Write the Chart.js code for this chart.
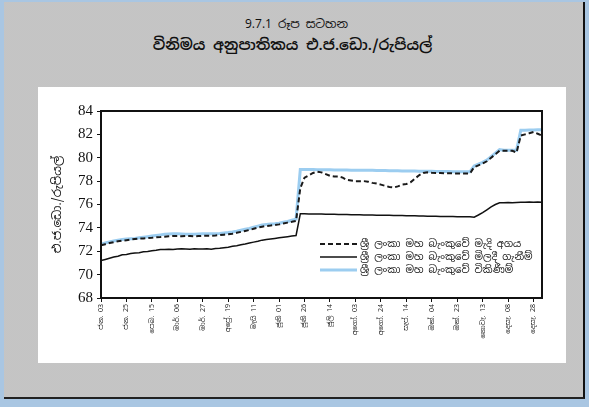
<!DOCTYPE html>
<html>
<head>
<meta charset="utf-8">
<script src="https://cdn.jsdelivr.net/npm/chart.js@4.4.1/dist/chart.umd.min.js"></script>
<style>
  html, body { margin: 0; padding: 0; }
  body { width: 589px; height: 407px; background: #a9c6e2; position: relative; overflow: hidden; }
  #frame {
    position: absolute; left: 4px; top: 2px; width: 579px; height: 395px;
    background-color: #d3d3d3;
    background-image: radial-gradient(#b4b4b4 0.6px, transparent 0.8px);
    background-size: 2px 2px;
    border-right: 2px solid #111; border-bottom: 2px solid #222;
  }
  .title { position: absolute; left: 0; width: 100%; text-align: center; color: #111;
    font-family: "Noto Sans Sinhala", "Iskoola Pota", "Liberation Serif", serif; }
  #t1 { top: 16px; font-size: 12px; left: 2px; }
  #t2 { top: 35px; font-size: 15px; font-weight: 600; left: -2px; }
  #panel { position: absolute; left: 38px; top: 87px; width: 528px; height: 276px; background: #fff; }
  canvas { position: absolute; left: 0; top: 0; }
</style>
</head>
<body>
<div id="frame"></div>
<div class="title" id="t1">9.7.1 රූප සටහන</div>
<div class="title" id="t2">විනිමය අනුපාතිකය එ.ජ.ඩො./රුපියල්</div>
<div id="panel"><canvas id="canvas" width="528" height="276"></canvas></div>
<script>
// x labels, one every 6 half-week steps
const xLabels = ["ජන. 03", "ජන. 25", "පෙබ. 15", "මාර්. 06", "මාර්. 27", "අප්‍රේ. 19",
  "මැයි 11", "ජූනි 01", "ජූනි 26", "ජූලි 14", "අගෝ. 03", "අගෝ. 24",
  "සැප්. 14", "ඔක්. 04", "ඔක්. 23", "නොවැ. 13", "දෙසැ. 08", "දෙසැ. 28"];

const seriesNames = ["ශ්‍රී ලංකා මහ බැංකුවේ මැදි අගය",
  "ශ්‍රී ලංකා මහ බැංකුවේ මිලදී ගැනීම්",
  "ශ්‍රී ලංකා මහ බැංකුවේ විකිණීම්"];

// middle rate (dashed)
const middleRate = [
  72.50, 72.60, 72.70, 72.78, 72.85, 72.90, 72.95, 73.00, 73.05, 73.08,
  73.10, 73.12, 73.15, 73.20, 73.22, 73.25, 73.28, 73.30, 73.30, 73.28,
  73.30, 73.30, 73.28, 73.30, 73.32, 73.33, 73.33, 73.35, 73.38, 73.42,
  73.45, 73.50, 73.58, 73.66, 73.74, 73.82, 73.92, 74.02, 74.10, 74.16,
  74.20, 74.25, 74.30, 74.38, 74.45, 74.52, 74.60, 77.40, 78.30, 78.50,
  78.70, 78.80, 78.75, 78.60, 78.45, 78.40, 78.40, 78.30, 78.10, 78.05,
  78.00, 78.00, 78.00, 77.95, 77.85, 77.80, 77.70, 77.60, 77.50, 77.45,
  77.55, 77.70, 77.75, 77.90, 78.20, 78.50, 78.70, 78.75, 78.72, 78.70,
  78.70, 78.68, 78.68, 78.66, 78.66, 78.65, 78.65, 78.65, 79.20, 79.35,
  79.50, 79.70, 80.00, 80.30, 80.60, 80.60, 80.60, 80.60, 80.45, 81.90,
  82.00, 82.10, 82.20, 82.05, 81.90];

// CBSL buying rate (solid black)
const buyingRate = [
  71.20, 71.30, 71.40, 71.50, 71.58, 71.70, 71.72, 71.80, 71.85, 71.88,
  71.95, 71.98, 72.05, 72.08, 72.15, 72.14, 72.18, 72.16, 72.20, 72.22,
  72.20, 72.18, 72.22, 72.20, 72.20, 72.22, 72.18, 72.24, 72.25, 72.30,
  72.35, 72.42, 72.48, 72.55, 72.62, 72.70, 72.78, 72.86, 72.95, 73.00,
  73.05, 73.10, 73.15, 73.20, 73.25, 73.30, 73.35, 75.20, 75.20, 75.19,
  75.19, 75.18, 75.18, 75.17, 75.16, 75.16, 75.15, 75.15, 75.14, 75.13,
  75.12, 75.12, 75.11, 75.10, 75.10, 75.09, 75.08, 75.08, 75.07, 75.06,
  75.05, 75.05, 75.04, 75.03, 75.03, 75.02, 75.01, 75.00, 75.00, 74.99,
  74.98, 74.98, 74.97, 74.97, 74.96, 74.96, 74.95, 74.95, 74.92, 75.10,
  75.30, 75.55, 75.80, 76.00, 76.15, 76.15, 76.18, 76.15, 76.18, 76.20,
  76.20, 76.22, 76.20, 76.22, 76.20];

// CBSL selling rate (light blue)
const sellingRate = [
  72.60, 72.70, 72.80, 72.88, 72.95, 73.00, 73.04, 73.07, 73.10, 73.15,
  73.20, 73.25, 73.30, 73.35, 73.40, 73.45, 73.48, 73.50, 73.50, 73.48,
  73.46, 73.45, 73.46, 73.48, 73.50, 73.50, 73.50, 73.50, 73.52, 73.56,
  73.60, 73.65, 73.72, 73.80, 73.88, 73.95, 74.05, 74.15, 74.25, 74.30,
  74.33, 74.35, 74.40, 74.48, 74.55, 74.65, 74.75, 79.00, 79.00, 78.99,
  78.99, 78.98, 78.98, 78.97, 78.97, 78.96, 78.96, 78.95, 78.95, 78.94,
  78.94, 78.93, 78.93, 78.92, 78.92, 78.91, 78.90, 78.90, 78.89, 78.88,
  78.88, 78.87, 78.87, 78.86, 78.86, 78.85, 78.85, 78.84, 78.84, 78.83,
  78.83, 78.82, 78.82, 78.81, 78.81, 78.80, 78.80, 78.80, 79.30, 79.45,
  79.60, 79.80, 80.10, 80.40, 80.70, 80.65, 80.65, 80.65, 80.65, 82.35,
  82.35, 82.38, 82.38, 82.40, 82.40];

const yTicks = [68, 70, 72, 74, 76, 78, 80, 82, 84];

const sinhalaFont = '"Noto Sans Sinhala", "Iskoola Pota", "Liberation Serif", serif';

function toPoints(arr) {
  return arr.map((v, i) => ({x: i, y: v}));
}

// frame round the plot + legend inside the plot
const framePlugin = {
  id: 'plotFrame',
  afterDraw: (chart) => {
    const {ctx, chartArea} = chart;
    ctx.save();
    ctx.strokeStyle = '#111';
    ctx.lineWidth = 2;
    ctx.strokeRect(chartArea.left, chartArea.top, chartArea.right - chartArea.left, chartArea.bottom - chartArea.top);

    // legend
    const x0 = chartArea.left + 219;
    const lineLen = 37;
    let y = chartArea.top + 133;
    ctx.font = '10px ' + sinhalaFont;
    ctx.textBaseline = 'middle';
    chart.data.datasets.forEach((ds) => {
      ctx.beginPath();
      ctx.strokeStyle = ds.borderColor;
      ctx.lineWidth = ds.borderWidth;
      ctx.setLineDash(ds.borderDash || []);
      ctx.moveTo(x0, y);
      ctx.lineTo(x0 + lineLen, y);
      ctx.stroke();
      ctx.setLineDash([]);
      ctx.fillStyle = '#111';
      ctx.fillText(ds.label, x0 + lineLen + 3, y);
      y += 13;
    });
    ctx.restore();
  }
};

const chart = new Chart(document.getElementById('canvas').getContext('2d'), {
  type: 'line',
  data: {
    datasets: [
      {
        label: seriesNames[0],
        data: toPoints(middleRate),
        borderColor: '#1a1a1a',
        borderWidth: 2,
        borderDash: [5, 3],
        pointRadius: 0,
        order: 0
      },
      {
        label: seriesNames[1],
        data: toPoints(buyingRate),
        borderColor: '#111',
        borderWidth: 1.5,
        pointRadius: 0,
        order: 1
      },
      {
        label: seriesNames[2],
        data: toPoints(sellingRate),
        borderColor: '#9ccdf0',
        borderWidth: 3,
        pointRadius: 0,
        order: 2
      }
    ]
  },
  options: {
    responsive: false,
    devicePixelRatio: 1,
    animation: false,
    layout: { padding: { top: 24, right: 24, left: 0, bottom: 0 } },
    plugins: {
      legend: { display: false },
      tooltip: { enabled: false }
    },
    scales: {
      x: {
        type: 'linear',
        min: 0,
        max: middleRate.length - 1,
        afterFit: (scale) => { scale.height = 65; },
        grid: { display: true, drawOnChartArea: false, tickLength: 4, color: '#111' },
        border: { display: true, color: '#111', width: 2 },
        ticks: {
          stepSize: 6,
          includeBounds: false,
          autoSkip: false,
          maxRotation: 90,
          minRotation: 90,
          padding: 2,
          color: '#222',
          font: { size: 7, family: sinhalaFont },
          callback: (v) => xLabels[v / 6]
        }
      },
      y: {
        min: 68,
        max: 84,
        afterFit: (scale) => { scale.width = 63; },
        afterBuildTicks: (scale) => { scale.ticks = yTicks.map((v) => ({value: v})); },
        grid: { display: true, drawOnChartArea: false, tickLength: 4, color: '#111' },
        border: { display: true, color: '#111', width: 2 },
        ticks: {
          padding: 4,
          color: '#111',
          font: { size: 15, family: '"Liberation Serif", "Times New Roman", serif' }
        },
        title: {
          display: true,
          text: 'එ.ජ.ඩො./රුපියල්',
          color: '#111',
          padding: { top: 13, bottom: 0 },
          font: { size: 12, family: sinhalaFont }
        }
      }
    }
  },
  plugins: [framePlugin]
});
</script>
</body>
</html>
